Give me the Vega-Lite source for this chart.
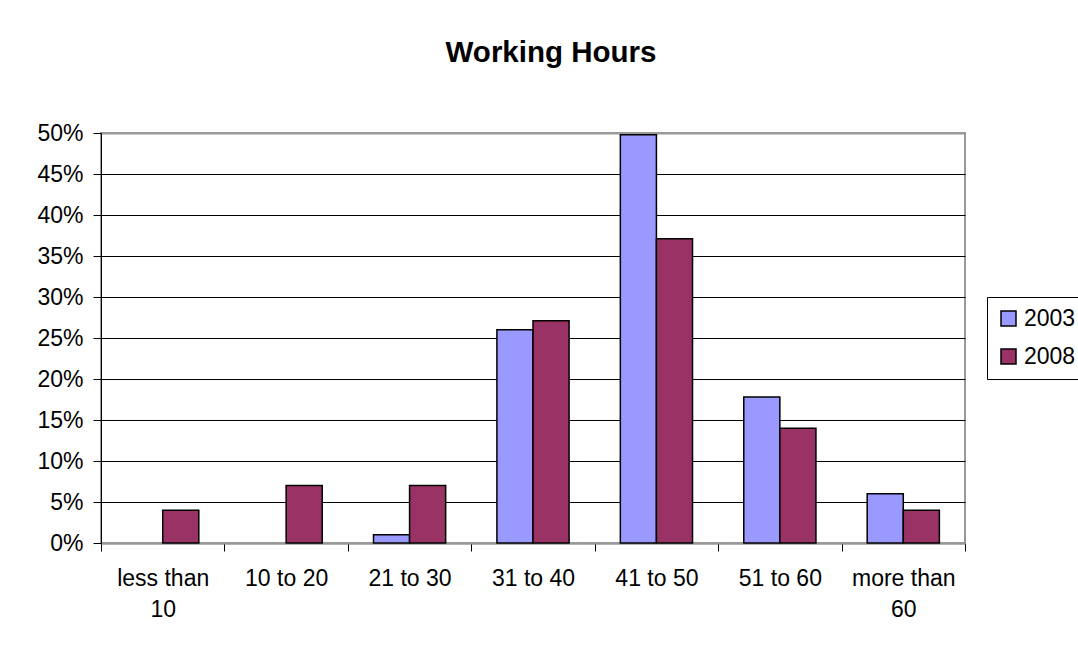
{
  "$schema": "https://vega.github.io/schema/vega-lite/v6.json",
  "autosize": {"type": "none"},
  "padding": {"left": 101, "top": 133, "right": 113, "bottom": 108},
  "width": 864,
  "height": 410,
  "background": "white",
  "title": {
    "text": "Working Hours",
    "font": "Liberation Sans",
    "fontSize": 29.5,
    "fontWeight": "bold",
    "color": "black",
    "anchor": "middle",
    "dx": 18,
    "baseline": "alphabetic",
    "offset": 31
  },
  "config": {
    "font": "Liberation Sans",
    "view": {"stroke": "#999999", "strokeWidth": 2}
  },
  "data": {
    "values": [
      {"hours": "less than 10", "year": "2008", "share": 0.04},
      {"hours": "10 to 20", "year": "2008", "share": 0.07},
      {"hours": "21 to 30", "year": "2003", "share": 0.01},
      {"hours": "21 to 30", "year": "2008", "share": 0.07},
      {"hours": "31 to 40", "year": "2003", "share": 0.26},
      {"hours": "31 to 40", "year": "2008", "share": 0.271},
      {"hours": "41 to 50", "year": "2003", "share": 0.498},
      {"hours": "41 to 50", "year": "2008", "share": 0.371},
      {"hours": "51 to 60", "year": "2003", "share": 0.178},
      {"hours": "51 to 60", "year": "2008", "share": 0.14},
      {"hours": "more than 60", "year": "2003", "share": 0.06},
      {"hours": "more than 60", "year": "2008", "share": 0.04}
    ]
  },
  "mark": {"type": "bar", "stroke": "black", "strokeWidth": 1.5},
  "encoding": {
    "x": {
      "field": "hours",
      "type": "nominal",
      "sort": ["less than 10", "10 to 20", "21 to 30", "31 to 40", "41 to 50", "51 to 60", "more than 60"],
      "scale": {"paddingInner": 0, "paddingOuter": 0},
      "axis": {
        "title": null,
        "labelAngle": 0,
        "labelFontSize": 23,
        "labelColor": "black",
        "labelLineHeight": 31,
        "labelPadding": 16,
        "labelExpr": "datum.label == 'less than 10' ? ['less than', '10'] : datum.label == 'more than 60' ? ['more than', '60'] : datum.label",
        "tickBand": "extent",
        "tickSize": 8,
        "tickColor": "black",
        "domainColor": "#999999",
        "domainWidth": 2,
        "grid": false
      }
    },
    "xOffset": {
      "field": "year",
      "type": "nominal",
      "scale": {"domain": ["2003", "2008"], "paddingInner": 0, "paddingOuter": 0.71}
    },
    "y": {
      "field": "share",
      "type": "quantitative",
      "scale": {"domain": [0, 0.5], "nice": false},
      "axis": {
        "title": null,
        "format": ".0%",
        "values": [0, 0.05, 0.1, 0.15, 0.2, 0.25, 0.3, 0.35, 0.4, 0.45, 0.5],
        "labelFontSize": 23,
        "labelColor": "black",
        "labelPadding": 10,
        "tickSize": 8,
        "tickColor": "black",
        "domainColor": "black",
        "grid": true,
        "gridColor": {"condition": {"test": "datum.value == 0.5 || datum.value == 0", "value": "#999999"}, "value": "black"},
        "gridWidth": {"condition": {"test": "datum.value == 0.5 || datum.value == 0", "value": 2}, "value": 1.2},
        "gridOpacity": 1
      }
    },
    "color": {
      "field": "year",
      "type": "nominal",
      "scale": {"domain": ["2003", "2008"], "range": ["#9999FF", "#993366"]},
      "legend": {
        "title": null,
        "orient": "none",
        "legendX": 886,
        "legendY": 164,
        "strokeColor": "black",
        "padding": 10,
        "symbolType": "square",
        "symbolSize": 225,
        "symbolStrokeColor": "black",
        "symbolStrokeWidth": 1.5,
        "symbolOpacity": 1,
        "labelFontSize": 23,
        "labelColor": "black",
        "labelOffset": 4,
        "rowPadding": 14
      }
    }
  }
}
